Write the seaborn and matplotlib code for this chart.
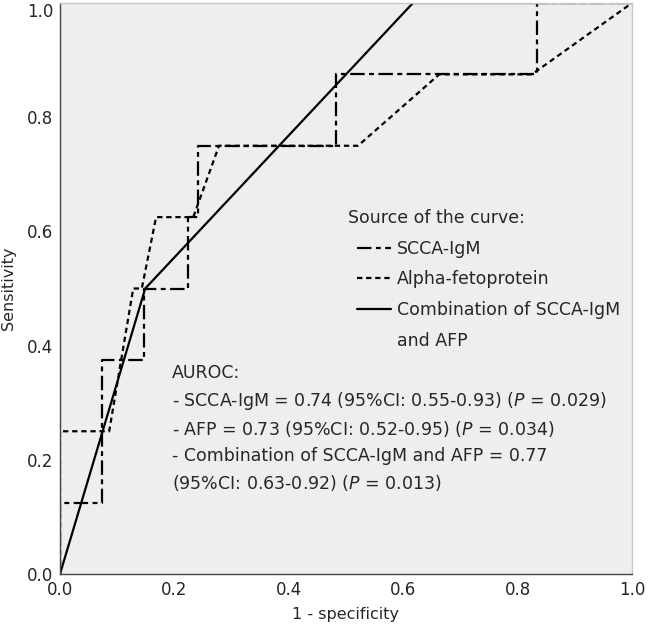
import matplotlib
matplotlib.use("Agg")
import matplotlib.pyplot as plt
import seaborn as sns
import pandas as pd
from matplotlib.lines import Line2D

# ---- data ----
curve_names = ["SCCA-IgM", "Alpha-fetoprotein", "Combination of SCCA-IgM"]
scca_fpr = [0, 0, 0.073, 0.073, 0.147, 0.147, 0.223, 0.223, 0.242, 0.242, 0.482, 0.482, 0.834, 0.834, 1.0]
scca_tpr = [0, 0.125, 0.125, 0.375, 0.375, 0.5, 0.5, 0.625, 0.625, 0.75, 0.75, 0.875, 0.875, 1.0, 1.0]
afp_fpr = [0, 0, 0.086, 0.128, 0.143, 0.168, 0.233, 0.278, 0.521, 0.663, 0.825, 1.0]
afp_tpr = [0, 0.25, 0.25, 0.5, 0.5, 0.625, 0.625, 0.75, 0.75, 0.875, 0.875, 1.0]
comb_fpr = [0, 0.149, 0.617, 1.0]
comb_tpr = [0, 0.5, 1.0, 1.0]
x_ticks = [0.0, 0.2, 0.4, 0.6, 0.8, 1.0]
y_ticks = [0.0, 0.2, 0.4, 0.6, 0.8, 1.0]
auroc_lines = [
    "AUROC:",
    "- SCCA-IgM = 0.74 (95%CI: 0.55-0.93) ($\\it{P}$ = 0.029)",
    "- AFP = 0.73 (95%CI: 0.52-0.95) ($\\it{P}$ = 0.034)",
    "- Combination of SCCA-IgM and AFP = 0.77",
    "(95%CI: 0.63-0.92) ($\\it{P}$ = 0.013)",
]

frames = []
for name, fx, fy in zip(curve_names, [scca_fpr, afp_fpr, comb_fpr], [scca_tpr, afp_tpr, comb_tpr]):
    frames.append(pd.DataFrame({"fpr": fx, "tpr": fy, "curve": name}))
df = pd.concat(frames, ignore_index=True)

sns.set_style("white")
plt.rcParams["font.family"] = ["DejaVu Sans"]
plt.rcParams["mathtext.fontset"] = "dejavusans"

FS = 12.5
fig = plt.figure(figsize=(6.5, 6.34), dpi=100)
ax = fig.add_axes([60 / 650, 60 / 634, 572 / 650, 571 / 634])
ax.set_facecolor("#EEEEEE")

dashes = {
    "SCCA-IgM": (6.5, 2.0, 2.2, 2.0),
    "Alpha-fetoprotein": (2.4, 1.7),
    "Combination of SCCA-IgM": "",
}
sns.lineplot(data=df, x="fpr", y="tpr", hue="curve", style="curve",
             palette={n: "black" for n in curve_names}, dashes=dashes,
             estimator=None, sort=False, linewidth=1.6, ax=ax, legend=True)

ax.set_xlim(0, 1)
ax.set_ylim(0, 1)
ax.set_xticks(x_ticks)
ax.set_yticks(y_ticks)
ax.set_xticklabels([f"{v:.1f}" for v in x_ticks], fontsize=12)
ax.set_yticklabels([f"{v:.1f}" for v in y_ticks], fontsize=12)
ax.get_yticklabels()[-1].set_va("top")
ax.tick_params(length=0, pad=5)
ax.set_xlabel("1 - specificity", fontsize=11.5, labelpad=6)
ax.set_ylabel("Sensitivity", fontsize=11.5, labelpad=8)
for s in ["left", "bottom"]:
    ax.spines[s].set_color("#444444")
    ax.spines[s].set_linewidth(1.0)
for s in ["top", "right"]:
    ax.spines[s].set_color("#C8C8C8")
    ax.spines[s].set_linewidth(1.0)

handles, labels = ax.get_legend_handles_labels()
handles = list(handles) + [Line2D([], [], linestyle="none")]
labels = list(labels) + ["and AFP"]
ax.legend(handles, labels, loc="upper left", bbox_to_anchor=((357 - 60) / 572, (574 - 240) / 571),
          frameon=False, fontsize=FS, handlelength=1.95, handletextpad=0.35,
          labelspacing=0.72, borderpad=0, borderaxespad=0)
ax.text((348 - 60) / 572, (574 - 218) / 571, "Source of the curve:", transform=ax.transAxes,
        fontsize=FS, ha="left", va="center")

ys = [373, 401, 429, 456, 483]
for txt, yp in zip(auroc_lines, ys):
    ax.text((172 - 60) / 572, (574 - yp) / 571, txt, transform=ax.transAxes,
            fontsize=FS, ha="left", va="center")

fig.savefig("out.png", dpi=100)
